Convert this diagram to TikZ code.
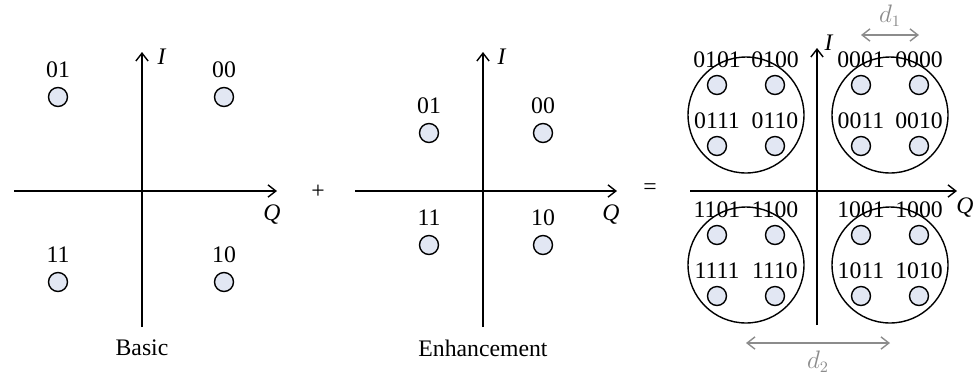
\documentclass[tikz,border=0pt]{standalone}
\usepackage{fontspec}
\setmainfont{Liberation Serif}
\usepackage{tikz}
\usetikzlibrary{arrows.meta, positioning, calc}
\definecolor{ptfill}{RGB}{226,231,243}
\definecolor{dimgray}{RGB}{140,140,140}

\begin{document}
\begin{tikzpicture}[x=0.02cm, y=-0.02cm, font=\fontsize{13.5}{16}\selectfont,
    axis/.style={line width=0.8pt, -{Straight Barb[length=4.5pt, width=7pt]}},
    pt/.style={circle, draw, line width=0.8pt, fill=ptfill, minimum size=0.38cm, inner sep=0pt},
    cluster/.style={circle, draw, line width=0.8pt, minimum size=2.32cm, inner sep=0pt},
    bits/.style={inner sep=0pt},
    dim/.style={dimgray, line width=0.8pt, {Straight Barb[length=4.5pt, width=7pt]}-{Straight Barb[length=4.5pt, width=7pt]}}]
  \useasboundingbox (0,0) rectangle (974,380);

  % Left: Basic layer
  \coordinate (bW) at (14,191);
  \coordinate (bE) at (277,191);
  \coordinate (bS) at (142,327);
  \coordinate (bN) at (142,52);
  \draw[axis] (bW) -- (bE);
  \draw[axis] (bS) -- (bN);
  \node (bI) at (162,57) {\textit{I}};
  \node (bQ) at (272,215) {\textit{Q}};
  \foreach \x/\y/\lab in {58/97/01, 224/97/00, 58/282/11, 224/282/10} {
    \node[pt] (b\lab) at (\x,\y) {};
    \node[bits, above=5pt of b\lab] {\lab};
  }
  \node (basic) at (142,348) {Basic};

  \node (plus) at (318,192) {+};

  % Middle: Enhancement layer
  \coordinate (eW) at (355,191);
  \coordinate (eE) at (617,191);
  \coordinate (eS) at (483,327);
  \coordinate (eN) at (483,52);
  \draw[axis] (eW) -- (eE);
  \draw[axis] (eS) -- (eN);
  \node (eI) at (502,57) {\textit{I}};
  \node (eQ) at (611,215) {\textit{Q}};
  \foreach \x/\y/\lab in {429/133/01, 543/133/00, 429/245/11, 543/245/10} {
    \node[pt] (e\lab) at (\x,\y) {};
    \node[bits, above=5pt of e\lab] {\lab};
  }
  \node (enh) at (483,348) {Enhancement};

  \node (equal) at (650,189) {=};

  % Right: combined constellation
  \coordinate (cW) at (690,191);
  \coordinate (cE) at (957,191);
  \coordinate (cS) at (817,325);
  \coordinate (cN) at (817,48);
  \draw[axis] (cW) -- (cE);
  \draw[axis] (cS) -- (cN);
  \node (cI) at (829,43) {\textit{I}};
  \node (cQ) at (965,208) {\textit{Q}};
  \foreach \cx/\cy/\p in {746/115/01, 890/115/00, 746/265/11, 890/265/10} {
    \node[cluster] (c\p) at (\cx,\cy) {};
    \foreach \dx/\dy/\s in {-29/-30/01, 29/-30/00, -29/31/11, 29/31/10} {
      \node[pt] (p\p\s) at (\cx+\dx,\cy+\dy) {};
      \node[bits, above=4pt of p\p\s] {\p\s};
    }
  }

  % Distances
  \coordinate (d1y) at (0,35);
  \coordinate (d2y) at (0,343);
  \draw[dim] (p0001 |- d1y) -- (p0000 |- d1y) node[midway, above=1pt, dimgray] {$d_1$};
  \draw[dim] (c11 |- d2y) -- (c10 |- d2y) node[midway, below=1pt, dimgray] {$d_2$};
\end{tikzpicture}
\end{document}
